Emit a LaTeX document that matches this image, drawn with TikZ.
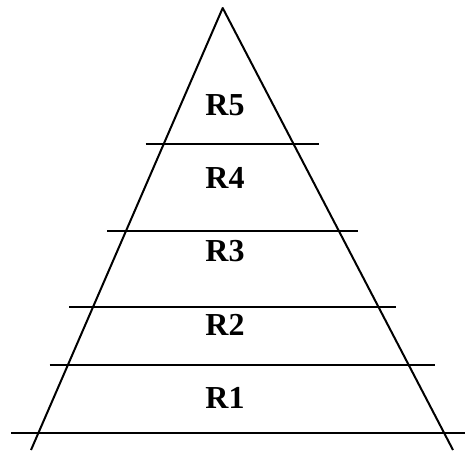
\documentclass[tikz,border=0pt]{standalone}
\usepackage{fontspec}
\setmainfont{Liberation Serif}
\usetikzlibrary{calc}

\tikzset{
  edge/.style={line width=2pt},
  lbl/.style={font=\bfseries\fontsize{32}{36}\selectfont, anchor=base, inner sep=0pt}
}

\begin{document}
\begin{tikzpicture}[line join=round, x=1pt, y=-1pt]
    % Parameters
    \useasboundingbox (0,0) rectangle (465,450);

    % apex and feet of the triangle
    \coordinate (A) at (222.7,8);
    \coordinate (L) at (31,450);
    \coordinate (R) at (453,450);

    % sides of the triangle
    \draw[edge] (L) -- (A) -- (R);

    % horizontal cuts: height / left end / right end
    \foreach \y/\xa/\xb [count=\i] in {144.3/145.7/319.3, 230.7/107.3/357.7,
        307.3/69/396.3, 365.3/49.7/434.7, 432.7/11/466} {
      \coordinate (C\i a) at (\xa,\y);
      \coordinate (C\i b) at (\xb,\y);
      \draw[edge] (C\i a) -- (C\i b);
    }

    % level names
    \foreach \y/\name in {115/R5, 188.3/R4, 261.7/R3, 335/R2, 408.3/R1} {
      \node[lbl] (\name) at (225,\y) {\name};
    }
  \end{tikzpicture}
\end{document}
